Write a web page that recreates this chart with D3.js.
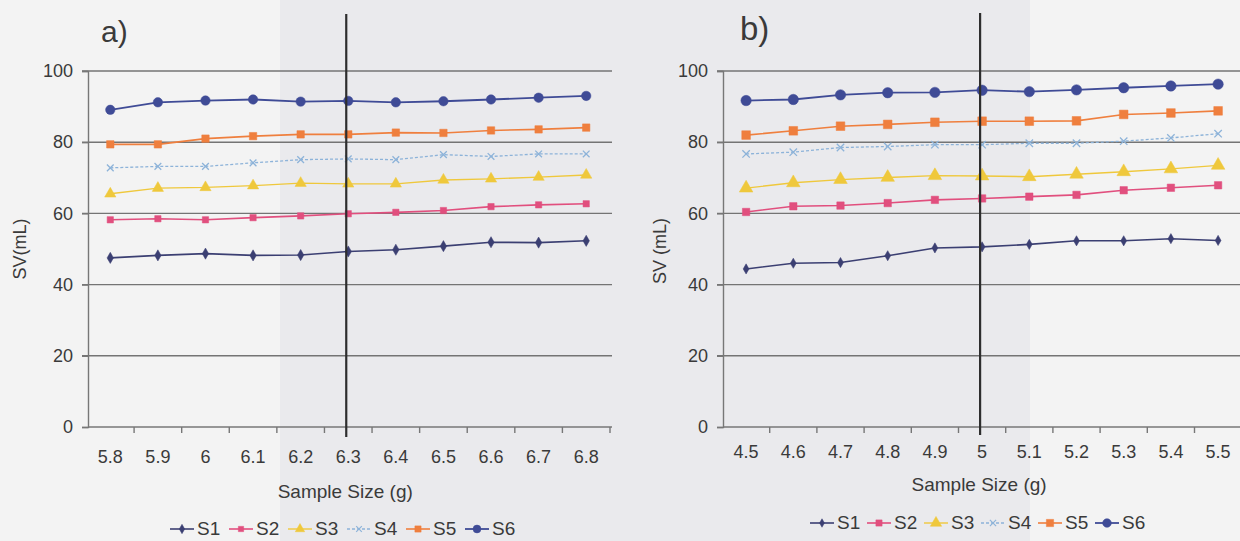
<!DOCTYPE html>
<html>
<head>
<meta charset="utf-8">
<script src="https://cdn.jsdelivr.net/npm/d3@7"></script>
<style>
  html, body { margin: 0; padding: 0; background: #f3f3f3; }
  svg { display: block; font-family: "Liberation Sans", Arial, sans-serif; }
</style>
</head>
<body>
<svg id="chart" width="1240" height="541"></svg>
<script>
// ---- data ----
const seriesNames = ["S1", "S2", "S3", "S4", "S5", "S6"];
const yTicks = [0, 20, 40, 60, 80, 100];

// panel a) sample sizes 5.8 – 6.8 g
const sampleSizesA = ["5.8", "5.9", "6", "6.1", "6.2", "6.3", "6.4", "6.5", "6.6", "6.7", "6.8"];
const a_S1 = [47.5, 48.2, 48.7, 48.2, 48.3, 49.3, 49.8, 50.8, 51.9, 51.8, 52.3];
const a_S2 = [58.2, 58.5, 58.2, 58.8, 59.3, 59.9, 60.3, 60.8, 61.9, 62.4, 62.7];
const a_S3 = [65.5, 67.1, 67.3, 67.8, 68.5, 68.3, 68.3, 69.4, 69.7, 70.2, 70.8];
const a_S4 = [72.8, 73.2, 73.2, 74.2, 75.1, 75.3, 75.1, 76.5, 76.0, 76.7, 76.7];
const a_S5 = [79.4, 79.4, 81.0, 81.7, 82.2, 82.2, 82.7, 82.6, 83.3, 83.6, 84.1];
const a_S6 = [89.1, 91.2, 91.7, 92.0, 91.4, 91.6, 91.2, 91.5, 92.0, 92.5, 93.0];
const markerA = "6.3";

// panel b) sample sizes 4.5 – 5.5 g
const sampleSizesB = ["4.5", "4.6", "4.7", "4.8", "4.9", "5", "5.1", "5.2", "5.3", "5.4", "5.5"];
const b_S1 = [44.4, 46.0, 46.2, 48.1, 50.3, 50.6, 51.3, 52.3, 52.3, 52.9, 52.4];
const b_S2 = [60.4, 62.0, 62.2, 62.9, 63.8, 64.2, 64.7, 65.2, 66.5, 67.2, 67.9];
const b_S3 = [67.1, 68.6, 69.5, 70.1, 70.6, 70.5, 70.3, 71.0, 71.7, 72.5, 73.5];
const b_S4 = [76.7, 77.2, 78.5, 78.8, 79.3, 79.3, 79.7, 79.7, 80.3, 81.2, 82.4];
const b_S5 = [82.0, 83.2, 84.5, 85.0, 85.6, 85.9, 85.9, 86.0, 87.8, 88.2, 88.8];
const b_S6 = [91.7, 92.0, 93.3, 93.9, 94.0, 94.6, 94.2, 94.7, 95.3, 95.8, 96.3];
const markerB = "5";

// ---- styling per series ----
const seriesColors = ["#3b3f72", "#e14f7e", "#efc83c", "#8db3d9", "#ef7f3e", "#3f4b96"];
const seriesWidths = [1.6, 1.6, 1.4, 1.3, 1.6, 1.8];
const seriesDash = [null, null, null, "3,2", null, null];

// X-shaped marker (stroke only)
const symbolCrossX = {
  draw(ctx, size) {
    const r = Math.sqrt(size) / 2;
    ctx.moveTo(-r, -r); ctx.lineTo(r, r);
    ctx.moveTo(-r, r); ctx.lineTo(r, -r);
  }
};
const seriesSymbols = [d3.symbolDiamond, d3.symbolSquare, d3.symbolTriangle, symbolCrossX, d3.symbolSquare, d3.symbolCircle];

const svg = d3.select("#chart");
const textColor = "#3a3a3a";
const fontStack = "Liberation Sans, Arial, sans-serif";

// faint darker bands of the page behind the figure
svg.append("rect").attr("x", 280).attr("y", 0).attr("width", 340).attr("height", 541).attr("fill", "#eaeaed");
svg.append("rect").attr("x", 620).attr("y", 0).attr("width", 410).attr("height", 541).attr("fill", "#eaeaed");

const panels = [
  {
    cats: sampleSizesA, series: [a_S1, a_S2, a_S3, a_S4, a_S5, a_S6], ref: markerA,
    xRange: [86.5, 610], gridEnd: 612, axisX: 88,
    tag: "a)", tagX: 101, tagY: 42, tagSize: 30,
    yTitle: "SV(mL)", yTitleX: 26, yTitleY: 249,
    tickPad: 23, xTitleY: 498, legendX: 170, legendY: 529, legendStep: 59,
    refTop: 14, refBottom: 437,
    sizes: [36, 40, 55, 45, 55, 70]
  },
  {
    cats: sampleSizesB, series: [b_S1, b_S2, b_S3, b_S4, b_S5, b_S6], ref: markerB,
    xRange: [722.5, 1241.7], gridEnd: 1240, axisX: 723,
    tag: "b)", tagX: 740, tagY: 40, tagSize: 33,
    yTitle: "SV (mL)", yTitleX: 666, yTitleY: 251,
    tickPad: 18, xTitleY: 491, legendX: 810, legendY: 523, legendStep: 57,
    refTop: 13, refBottom: 435,
    sizes: [30, 55, 80, 55, 75, 85]
  }
];

const y = d3.scaleLinear().domain([0, 100]).range([427, 71]);

panels.forEach(p => {
  const g = svg.append("g");
  const x = d3.scaleBand().domain(p.cats).range(p.xRange).paddingInner(0).paddingOuter(0);
  const bw = x.bandwidth();
  const cx = c => x(c) + bw / 2;

  // horizontal gridlines (they also form the y tick marks)
  g.append("g").selectAll("line").data(yTicks.filter(t => t > 0)).join("line")
    .attr("x1", p.axisX - 6).attr("x2", p.gridEnd)
    .attr("y1", d => y(d)).attr("y2", d => y(d))
    .attr("stroke", "#747474").attr("stroke-width", 1.4);

  // y axis
  const yAxis = d3.axisLeft(y).tickValues(yTicks).tickSize(6).tickPadding(9);
  const ya = g.append("g").attr("transform", `translate(${p.axisX},0)`).call(yAxis);
  ya.select(".domain").attr("stroke", "#777").attr("stroke-width", 1.4);
  ya.selectAll(".tick line").attr("stroke", "#777").attr("stroke-width", 1.4);
  ya.selectAll(".tick text").attr("fill", textColor).attr("font-size", 18)
    .attr("font-family", fontStack);

  // x axis: labels centred on categories, tick marks on category boundaries
  const xAxis = d3.axisBottom(x).tickSize(0).tickPadding(p.tickPad);
  const xa = g.append("g").attr("transform", `translate(0,${y(0)})`).call(xAxis);
  xa.select(".domain").remove();
  xa.selectAll(".tick text").attr("fill", textColor).attr("font-size", 18)
    .attr("font-family", fontStack);
  g.append("line").attr("x1", p.axisX).attr("x2", p.gridEnd)
    .attr("y1", y(0)).attr("y2", y(0)).attr("stroke", "#777").attr("stroke-width", 1.4);
  const bounds = p.cats.map(c => x(c)).concat([x(p.cats[p.cats.length - 1]) + bw]).slice(1);
  g.append("g").selectAll("line").data(bounds).join("line")
    .attr("x1", d => d).attr("x2", d => d)
    .attr("y1", y(0)).attr("y2", y(0) + 6)
    .attr("stroke", "#777").attr("stroke-width", 1.4);

  // series lines and markers
  p.series.forEach((vals, i) => {
    const pts = p.cats.map((c, k) => [cx(c), y(vals[k])]);
    g.append("path").attr("d", d3.line()(pts))
      .attr("fill", "none").attr("stroke", seriesColors[i])
      .attr("stroke-width", seriesWidths[i])
      .attr("stroke-dasharray", seriesDash[i]);
    const sym = d3.symbol().type(seriesSymbols[i]).size(p.sizes[i]);
    g.append("g").selectAll("path").data(pts).join("path")
      .attr("transform", d => `translate(${d[0]},${d[1]})`)
      .attr("d", sym)
      .attr("fill", i === 3 ? "none" : seriesColors[i])
      .attr("stroke", seriesColors[i])
      .attr("stroke-width", i === 3 ? 1.3 : 0.5);
  });

  // vertical reference line at the chosen sample size
  g.append("line").attr("x1", cx(p.ref) - 2).attr("x2", cx(p.ref) - 2)
    .attr("y1", p.refTop).attr("y2", p.refBottom)
    .attr("stroke", "#2e2e2e").attr("stroke-width", 2.2);

  // panel tag
  g.append("text").attr("x", p.tagX).attr("y", p.tagY).text(p.tag)
    .attr("font-size", p.tagSize).attr("fill", textColor);

  // axis titles
  g.append("text").attr("transform", `translate(${p.yTitleX},${p.yTitleY}) rotate(-90)`)
    .attr("text-anchor", "middle").attr("font-size", 18).attr("fill", textColor)
    .text(p.yTitle);
  g.append("text").attr("x", (p.xRange[0] + p.xRange[1]) / 2 - 3).attr("y", p.xTitleY)
    .attr("text-anchor", "middle").attr("font-size", 19).attr("fill", textColor)
    .text("Sample Size (g)");

  // legend
  const lg = g.append("g").attr("transform", `translate(${p.legendX},${p.legendY})`);
  seriesNames.forEach((name, i) => {
    const e = lg.append("g").attr("transform", `translate(${i * p.legendStep},0)`);
    e.append("line").attr("x1", 0).attr("x2", 24).attr("y1", 0).attr("y2", 0)
      .attr("stroke", seriesColors[i]).attr("stroke-width", seriesWidths[i])
      .attr("stroke-dasharray", seriesDash[i]);
    e.append("path").attr("transform", "translate(12,0)")
      .attr("d", d3.symbol().type(seriesSymbols[i]).size(p.sizes[i] * 0.7))
      .attr("fill", i === 3 ? "none" : seriesColors[i])
      .attr("stroke", seriesColors[i]).attr("stroke-width", i === 3 ? 1.2 : 0.5);
    e.append("text").attr("x", 27).attr("y", 6).attr("font-size", 19)
      .attr("fill", textColor).text(name);
  });
});
</script>
</body>
</html>
